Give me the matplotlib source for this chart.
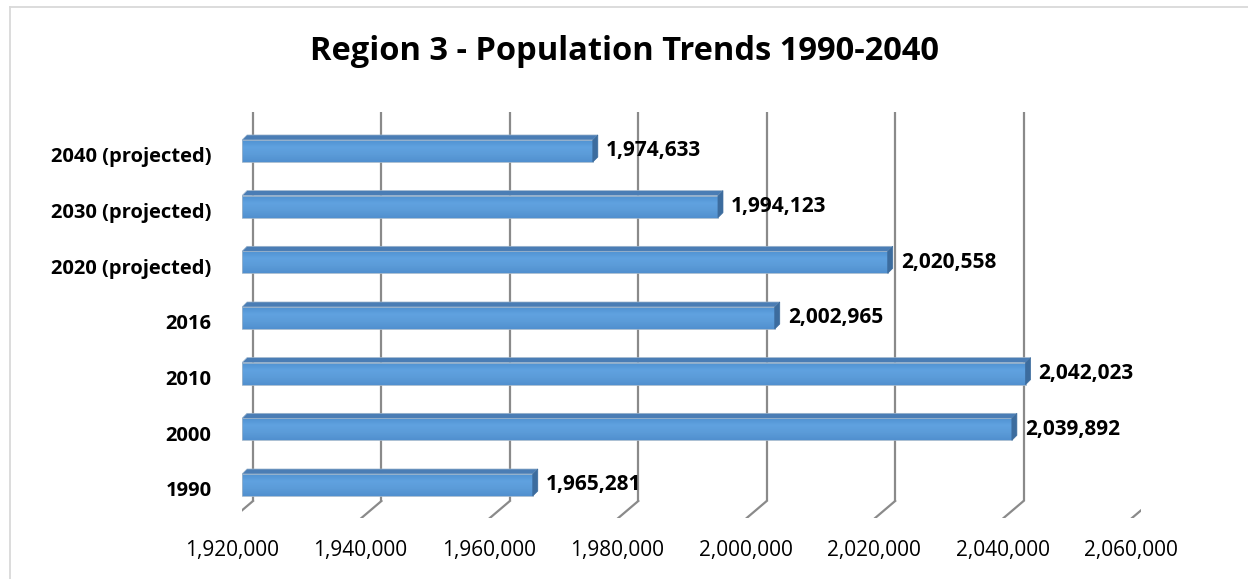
import numpy as np
import matplotlib.pyplot as plt
from matplotlib.patches import Polygon
from matplotlib.lines import Line2D
from matplotlib.colors import LinearSegmentedColormap
from matplotlib.ticker import FuncFormatter
import matplotlib.transforms as mtransforms

plt.rcParams['font.family'] = ['Open Sans', 'DejaVu Sans']

years = ["1990", "2000", "2010", "2016", "2020 (projected)", "2030 (projected)", "2040 (projected)"]
population = [1965281, 2039892, 2042023, 2002965, 2020558, 1994123, 1974633]
ticks = [1920000, 1940000, 1960000, 1980000, 2000000, 2020000, 2040000, 2060000]
title = "Region 3 - Population Trends 1990-2040"

W, H = 1248, 579
fig = plt.figure(figsize=(W / 100, H / 100), dpi=100)

# chart frame (top and left edges, the rest runs off the canvas)
frame_kw = dict(transform=fig.transFigure, color='#d9d9d9', lw=1.3)
fig.add_artist(Line2D([10 / W, 1], [1 - 7 / H, 1 - 7 / H], **frame_kw))
fig.add_artist(Line2D([10 / W, 10 / W], [0, 1 - 7 / H], **frame_kw))

fig.text(0.5, 1 - 52 / H, title, ha='center', va='center', fontsize=23.5, fontweight='bold')

# plot area in pixels: the bars sit on the front plane, walls are drawn with offsets
left, right, top, bottom = 242, 1141, 112, 518
ax = fig.add_axes([left / W, 1 - bottom / H, (right - left) / W, (bottom - top) / H])
xmin, xmax = ticks[0], ticks[-1]
ymin, ymax = -0.593, 6.70
ax.set_xlim(xmin, xmax)
ax.set_ylim(ymin, ymax)
for s in ax.spines.values():
    s.set_visible(False)

dx = (xmax - xmin) / (right - left)   # data units per pixel
dy = (ymax - ymin) / (bottom - top)

# back wall gridlines and the floor edges running to the front
for t in ticks:
    xb = t + 11 * dx
    yb = ymin + 17 * dy
    ax.plot([xb, xb], [yb, ymax], color='#8a8a8a', lw=1.6, solid_capstyle='butt', zorder=1)
    ax.plot([xb, t - 9 * dx], [yb, ymin], color='#8a8a8a', lw=1.6, zorder=1)

# bars with a shallow 3-D look
y = np.arange(len(years))
h = 0.395
depth = 5
cmap = LinearSegmentedColormap.from_list('bar', ['#5193d2', '#60a2e0', '#5b9bd8', '#5190cf'])
grad = np.linspace(0, 1, 64).reshape(-1, 1)
for yi, v in zip(y, population):
    ax.imshow(grad, cmap=cmap, aspect='auto', extent=(xmin, v, yi - h / 2, yi + h / 2),
              origin='upper', zorder=3)
    ax.barh(yi, v - xmin, left=xmin, height=h, color='none', edgecolor='#9db5cc', lw=0.6, zorder=4)
    yt = yi + h / 2
    ax.add_patch(Polygon([(xmin, yt), (v, yt), (v + depth * dx, yt + depth * dy),
                          (xmin + depth * dx, yt + depth * dy)],
                         closed=True, fc='#4a7db5', ec='#9db5cc', lw=0.5, zorder=4))
    ax.add_patch(Polygon([(v, yi - h / 2), (v, yt), (v + depth * dx, yt + depth * dy),
                          (v + depth * dx, yi - h / 2 + depth * dy)],
                         closed=True, fc='#3c6c9e', ec='#3c6c9e', lw=0.5, zorder=4))
    ax.text(v + (depth + 8) * dx, yi, f"{v:,}", ha='left', va='center',
            fontsize=15, fontweight='bold', zorder=5)

ax.set_xticks(ticks)
ax.xaxis.set_major_formatter(FuncFormatter(lambda val, pos: f"{int(val):,}"))
ax.set_yticks(y)
ax.set_yticklabels(years, fontweight='bold')
ax.tick_params(axis='x', length=0, pad=16, labelsize=15)
ax.tick_params(axis='y', length=0, pad=22, labelsize=14.5)
shift_x = mtransforms.ScaledTranslation(-10 / 100, 0, fig.dpi_scale_trans)
for lab in ax.get_xticklabels():
    lab.set_transform(lab.get_transform() + shift_x)
shift_y = mtransforms.ScaledTranslation(0, -4 / 100, fig.dpi_scale_trans)
for lab in ax.get_yticklabels():
    lab.set_transform(lab.get_transform() + shift_y)

fig.savefig('out.png', dpi=100)
